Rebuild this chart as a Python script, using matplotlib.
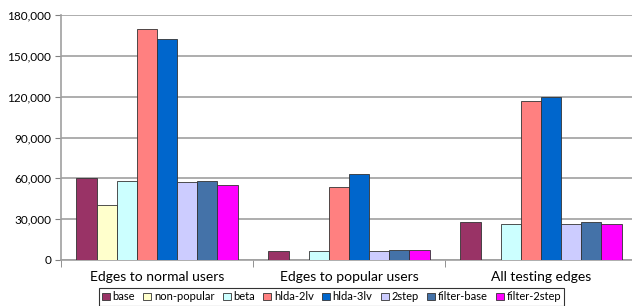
import matplotlib
matplotlib.use('Agg')
import matplotlib.pyplot as plt
import numpy as np

# Data
groups = ['Edges to normal users', 'Edges to popular users', 'All testing edges']
series = ['base', 'non-popular', 'beta', 'hlda-2lv', 'hlda-3lv', '2step', 'filter-base', 'filter-2step']
base = [60000, 6300, 27600]
non_popular = [40500, 0, 0]
beta = [58000, 6300, 26600]
hlda_2lv = [169500, 54000, 116900]
hlda_3lv = [162500, 63100, 120000]
two_step = [57000, 6300, 26400]
filter_base = [58000, 7600, 28100]
filter_2step = [55000, 7600, 26600]
yticks = [0, 30000, 60000, 90000, 120000, 150000, 180000]

values = [base, non_popular, beta, hlda_2lv, hlda_3lv, two_step, filter_base, filter_2step]
colors = ['#993366', '#FFFFCC', '#CCFFFF', '#FF8080', '#0066CC', '#CCCCFF', '#4472A8', '#FF00FF']

plt.rcParams['font.family'] = ['Lato', 'DejaVu Sans']

fig = plt.figure(figsize=(6.32, 3.06), dpi=100)
ax = fig.add_axes([61/632, 1-260/306, 576/632, 245/306])

x = np.arange(len(groups))
w = 0.105
for i, (name, vals) in enumerate(zip(series, values)):
    ax.bar(x + (i-3.5)*w, vals, width=w, color=colors[i], edgecolor='#333333',
           linewidth=0.6, label=name, zorder=3)

ax.set_xlim(-0.5, 2.5)
ax.set_ylim(0, 180000)
ax.set_yticks(yticks)
ax.set_yticklabels([f'{v:,}' for v in yticks], fontsize=8.5)
ax.yaxis.grid(True, color='#A0A0A0', linewidth=1.2, zorder=0)

ax.set_xticks(x)
ax.set_xticklabels(groups, fontsize=10)
ax.set_xticks([-0.5, 0.5, 1.5, 2.5], minor=True)
ax.tick_params(axis='x', which='major', length=0, pad=8)
ax.tick_params(axis='x', which='minor', length=5, color='#808080')
ax.tick_params(axis='y', length=4, color='#808080', pad=3)

for s in ['top', 'right']:
    ax.spines[s].set_visible(False)
for s in ['left', 'bottom']:
    ax.spines[s].set_color('#A0A0A0')
    ax.spines[s].set_linewidth(1.2)

leg = fig.legend(loc='upper center', bbox_to_anchor=(331.5/632, 1-288/306), ncol=8,
                 fontsize=8, frameon=True, fancybox=False, edgecolor='black',
                 handlelength=0.7, handleheight=0.7, handletextpad=0.25,
                 columnspacing=0.75, borderpad=0.3, borderaxespad=0)
leg.get_frame().set_linewidth(0.8)

fig.savefig('out.png', dpi=100)
